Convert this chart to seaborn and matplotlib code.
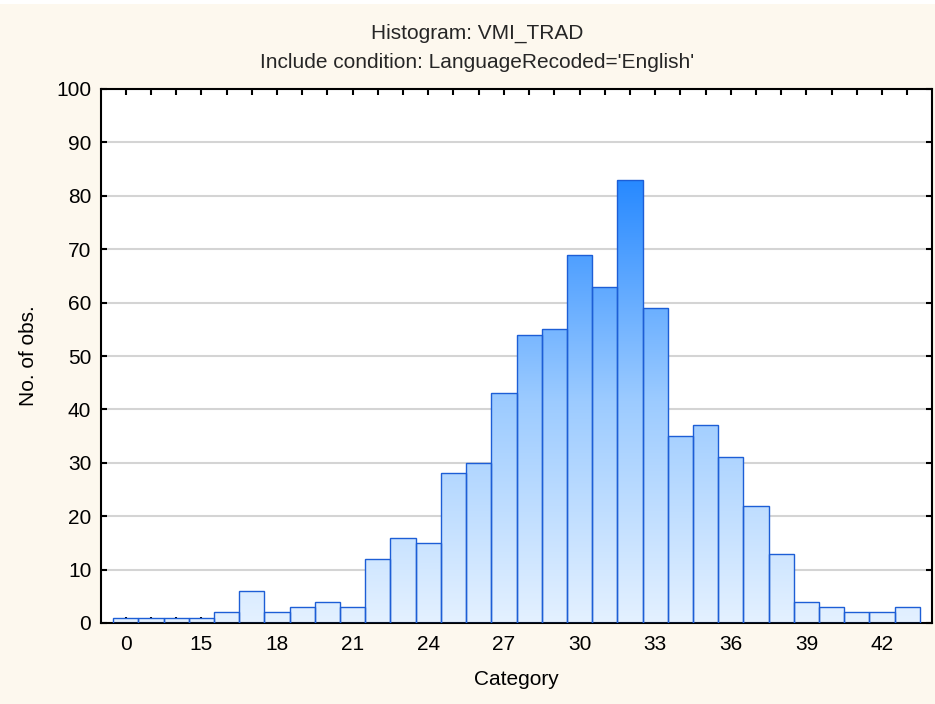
import numpy as np
import pandas as pd
import matplotlib
matplotlib.use("Agg")
import matplotlib.pyplot as plt
from matplotlib.colors import LinearSegmentedColormap
import seaborn as sns

# ---- data ----
categories = ["0"] + [str(v) for v in range(13, 44)]
counts = [1, 1, 1, 1, 2, 6, 2, 3, 4, 3, 12, 16, 15, 28, 30, 43,
          54, 55, 69, 63, 83, 59, 35, 37, 31, 22, 13, 4, 3, 2, 2, 3]
shown_labels = ["0", "15", "18", "21", "24", "27", "30", "33", "36", "39", "42"]
y_ticks = list(range(0, 101, 10))

title1 = "Histogram: VMI_TRAD"
title2 = "Include condition: LanguageRecoded='English'"
xlabel = "Category"
ylabel = "No. of obs."

df = pd.DataFrame({"Category": categories, "Count": counts})

sns.set_theme(style="white")
plt.rcParams["font.family"] = ["Liberation Sans", "DejaVu Sans"]

FS = 15
bg = "#fdf8ee"
fig = plt.figure(figsize=(9.35, 7.04), dpi=100, facecolor=bg)
ax = fig.add_axes([101/935, 1-623/704, (932-101)/935, (623-89)/704])
ax.set_facecolor("white")

sns.barplot(data=df, x="Category", y="Count", order=categories, width=1.0,
            color="#cfe5ff", edgecolor="#1d5ed6", linewidth=1.0, ax=ax,
            errorbar=None, zorder=3)

cmap = LinearSegmentedColormap.from_list("g", ["#e4f1ff", "#9ccbff", "#2789ff"])
ymax_grad = max(counts)
grad = np.linspace(0, 1, 256).reshape(-1, 1)
for p in ax.patches:
    x0 = p.get_x()
    w = p.get_width()
    im = ax.imshow(grad, cmap=cmap, origin="lower", aspect="auto",
                   extent=[x0, x0 + w, 0, ymax_grad], zorder=2.5,
                   interpolation="bilinear")
    im.set_clip_path(p)
    p.set_facecolor("none")

ax.set_xlim(-0.98, len(categories) - 1 + 0.98)
ax.set_ylim(0, 100)
ax.set_yticks(y_ticks)
ax.set_yticklabels([str(v) for v in y_ticks])

ax.set_xticks(range(len(categories)))
lab = []
for i, c in enumerate(categories):
    lab.append(c if c in shown_labels and (i % 3 == 0) else "")
ax.set_xticklabels(lab)

ax.yaxis.grid(True, color="#d4d4d4", linewidth=1.5, zorder=0)
ax.xaxis.grid(False)
ax.set_axisbelow(True)

for s in ax.spines.values():
    s.set_visible(True)
    s.set_color("black")
    s.set_linewidth(1.5)

ax.tick_params(axis="both", direction="in", length=4, width=1.5, color="black",
               labelsize=FS, top=True, right=True, bottom=True, left=True,
               labelcolor="black")
ax.tick_params(axis="x", pad=9)
ax.tick_params(axis="y", pad=7)

ax.set_xlabel(xlabel, fontsize=FS, labelpad=11, color="black")
ax.set_ylabel(ylabel, fontsize=FS, labelpad=13, color="black")

fig.text(477/935, 1-33/704, title1, ha="center", va="center", fontsize=FS)
fig.text(477/935, 1-63/704, title2, ha="center", va="center", fontsize=FS)

fig.patches.append(plt.Rectangle((0, 1 - 4/704), 1, 4/704, transform=fig.transFigure,
                                 facecolor="white", edgecolor="none", zorder=10))

fig.savefig("out.png", dpi=100, facecolor=bg)
